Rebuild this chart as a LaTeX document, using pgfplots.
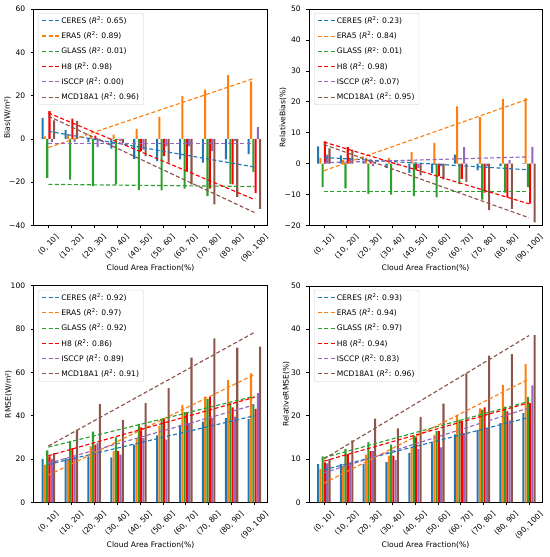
\documentclass[border=0pt]{standalone}
\usepackage{fontspec}
\setmainfont{DejaVu Sans}
\usepackage{graphicx}
\usepackage{pgfplots}
\usepackage{pgfplotstable}
\pgfplotsset{compat=1.18}
\newcommand\fs{\fontsize{7.6bp}{9bp}\selectfont}
\newcommand\xl[1]{\rotatebox{45}{#1}}
\definecolor{cblue}{HTML}{1F77B4}
\definecolor{corange}{HTML}{FF7F0E}
\definecolor{cgreen}{HTML}{2CA02C}
\definecolor{cred}{HTML}{FF0000}
\definecolor{cpurple}{HTML}{9467BD}
\definecolor{cbrown}{HTML}{8C564B}

% Bias
\pgfplotstableread{
x ceres era5 glass h8 isccp mcd
0 9.7 1.2 -18.0 12.8 -1.5 8.5
1 4.0 2.0 -18.8 9.4 -1.5 8.3
2 -1.5 1.5 -21.8 1.5 -3.8 -0.3
3 -4.5 2.0 -21.0 -0.3 -1.0 -1.8
4 -9.2 4.6 -23.7 -5.7 -5.0 -8.0
5 -10.3 10.2 -23.8 -8.0 -3.4 -11.0
6 -9.5 19.7 -23.0 -15.0 -3.4 -21.0
7 -11.0 22.8 -26.4 -23.0 -5.7 -30.3
8 -9.5 29.4 -20.8 -21.0 -1.0 -26.8
9 -7.0 26.6 -15.4 -25.0 5.4 -32.3
}\pa
\pgfplotstableread{
x ceres era5 glass h8 isccp mcd
0 3.5 -4.0 -21.0 12.0 -2.0 10.5
9 -13.0 28.0 -22.0 -28.0 -2.0 -34.0
}\ta
% Relative bias
\pgfplotstableread{
x ceres era5 glass h8 isccp mcd
0 5.6 1.9 -7.6 7.2 2.9 4.9
1 2.7 1.3 -8.0 5.3 1.9 4.5
2 0.5 1.9 -9.8 1.3 -0.8 0.5
3 -1.4 1.9 -10.0 0.2 -0.3 -0.6
4 -3.0 3.7 -10.5 -1.9 -1.4 -3.8
5 -3.0 6.7 -10.9 -4.0 -0.8 -5.1
6 2.9 18.5 -6.6 -4.9 5.3 -5.9
7 -2.2 15.0 -11.6 -9.4 -0.8 -15.0
8 -0.8 20.9 -9.4 -11.0 1.1 -14.6
9 0.2 21.2 -7.6 -12.9 5.4 -19.0
}\pb
\pgfplotstableread{
x ceres era5 glass h8 isccp mcd
0 2.0 -2.3 -9.0 7.0 0.3 6.2
9 -2.0 21.0 -9.0 -13.0 2.2 -17.5
}\tb
% RMSE
\pgfplotstableread{
x ceres era5 glass h8 isccp mcd
0 20.1 17.4 24.0 21.2 20.0 22.7
1 20.4 19.7 28.1 25.0 21.2 33.5
2 21.2 25.8 32.7 26.6 27.6 45.3
3 20.7 23.8 30.0 23.8 22.0 38.1
4 26.6 29.6 36.2 34.6 29.6 45.8
5 30.9 35.3 38.4 38.4 28.9 52.7
6 35.8 45.0 41.6 41.5 36.6 66.8
7 37.3 48.8 47.6 48.8 38.9 75.7
8 38.9 56.5 45.8 43.8 39.6 71.4
9 38.4 59.6 45.3 43.2 50.4 71.9
}\pc
\pgfplotstableread{
x ceres era5 glass h8 isccp mcd
0 17.5 12.5 25.5 21.5 18.0 26.0
9 40.0 59.0 49.0 48.5 45.0 78.5
}\tc
% Relative RMSE
\pgfplotstableread{
x ceres era5 glass h8 isccp mcd
0 8.8 7.7 10.6 9.2 9.0 10.0
1 8.9 8.3 12.3 11.1 9.1 14.3
2 8.9 11.0 13.9 11.8 11.8 19.3
3 9.3 10.8 13.3 10.8 9.8 17.1
4 11.4 12.7 15.4 15.0 12.3 19.7
5 13.7 15.6 16.5 16.5 12.7 22.8
6 15.7 20.2 19.0 18.7 16.0 29.8
7 16.7 21.7 21.4 21.9 17.1 33.9
8 18.3 27.1 22.1 21.0 18.9 34.2
9 20.6 31.9 24.3 22.9 27.0 38.6
}\pd
\pgfplotstableread{
x ceres era5 glass h8 isccp mcd
0 7.5 4.4 10.3 9.5 6.8 10.0
9 19.6 28.5 23.3 23.0 21.8 38.5
}\td

\pgfplotsset{
  panel/.style={
    scale only axis, width=234bp, height=216.5bp,
    xmin=-0.65, xmax=9.57,
    xtick={0,...,9},
    xticklabels={{\xl{(0, 10]}},{\xl{(10, 20]}},{\xl{(20, 30]}},{\xl{(30, 40]}},{\xl{(40, 50]}},{\xl{(50, 60]}},{\xl{(60, 70]}},{\xl{(70, 80]}},{\xl{(80, 90]}},{\xl{(90, 100]}}},
    tick align=outside, xtick pos=bottom, ytick pos=left,
    major tick length=2.7bp,
    tick style={black, line width=0.6bp},
    axis line style={black, line width=0.6bp},
    font=\fs,
    xticklabel style={anchor=north, inner sep=0pt, yshift=-5.4bp, font=\fs},
    yticklabel style={anchor=east, inner sep=0pt, xshift=-5.4bp, font=\fs},
    xlabel={Cloud Area Fraction(\%)},
    xlabel style={at={(axis description cs:0.5,-0.196)}, anchor=center, font=\fs},
    legend cell align=left,
    legend style={at={(axis description cs:0,1)}, anchor=north west,
      xshift=5bp, yshift=-4bp, draw=black!20, rounded corners=2bp,
      fill=white,
      font=\fs, inner xsep=3bp, inner ysep=2bp, row sep=4bp,
      nodes={inner sep=1.5bp}},
  },
  br/.style={ybar, bar width=0.09, draw=none, forget plot},
  tl/.style={dash pattern=on 4bp off 2.4bp, line width=1.15bp},
}

\newcommand\bars[1]{%
  \addplot[br, bar shift=-0.25, fill=cblue] table[x=x,y=ceres]{#1};
  \addplot[br, bar shift=-0.15, fill=corange] table[x=x,y=era5]{#1};
  \addplot[br, bar shift=-0.05, fill=cgreen] table[x=x,y=glass]{#1};
  \addplot[br, bar shift=0.05, fill=cred] table[x=x,y=h8]{#1};
  \addplot[br, bar shift=0.15, fill=cpurple] table[x=x,y=isccp]{#1};
  \addplot[br, bar shift=0.25, fill=cbrown] table[x=x,y=mcd]{#1};
}
\newcommand\trends[7]{%
  \addplot[tl, color=cblue] table[x=x,y=ceres]{#1};
  \addlegendentry{CERES (\textit{R}\textsuperscript{2}: #2)}
  \addplot[tl, color=corange] table[x=x,y=era5]{#1};
  \addlegendentry{ERA5 (\textit{R}\textsuperscript{2}: #3)}
  \addplot[tl, color=cgreen] table[x=x,y=glass]{#1};
  \addlegendentry{GLASS (\textit{R}\textsuperscript{2}: #4)}
  \addplot[tl, color=cred] table[x=x,y=h8]{#1};
  \addlegendentry{H8 (\textit{R}\textsuperscript{2}: #5)}
  \addplot[tl, color=cpurple] table[x=x,y=isccp]{#1};
  \addlegendentry{ISCCP (\textit{R}\textsuperscript{2}: #6)}
  \addplot[tl, color=cbrown] table[x=x,y=mcd]{#1};
  \addlegendentry{MCD18A1 (\textit{R}\textsuperscript{2}: #7)}
}

\begin{document}
\begin{tikzpicture}
\useasboundingbox (0,0) rectangle (550bp,557bp);

\begin{axis}[panel, at={(33.5bp,331.5bp)}, anchor=south west,
  ymin=-40, ymax=60, ytick={-40,-20,0,20,40,60},
  yticklabels={−40,−20,0,20,40,60},
  ylabel={Bias(W/m²)},
  ylabel style={at={(axis description cs:-0.111,0.5)}, anchor=center, font=\fs}]
\bars{\pa}
\trends{\ta}{0.65}{0.89}{0.01}{0.98}{0.00}{0.96}
\end{axis}

\begin{axis}[panel, width=233bp, at={(309bp,331.5bp)}, anchor=south west,
  ymin=-20, ymax=50, ytick={-20,-10,0,10,20,30,40,50},
  yticklabels={−20,−10,0,10,20,30,40,50},
  ylabel={RelativeBias(\%)},
  ylabel style={at={(axis description cs:-0.112,0.5)}, anchor=center, font=\fs}]
\bars{\pb}
\trends{\tb}{0.23}{0.84}{0.01}{0.98}{0.07}{0.95}
\end{axis}

\begin{axis}[panel, at={(33.5bp,54.7bp)}, anchor=south west,
  ymin=0, ymax=100, ytick={0,20,40,60,80,100},
  yticklabels={0,20,40,60,80,100},
  ylabel={RMSE(W/m²)},
  ylabel style={at={(axis description cs:-0.107,0.5)}, anchor=center, font=\fs}]
\bars{\pc}
\trends{\tc}{0.92}{0.97}{0.92}{0.86}{0.89}{0.91}
\end{axis}

\begin{axis}[panel, width=233bp, at={(309bp,54.7bp)}, anchor=south west,
  ymin=0, ymax=50, ytick={0,10,20,30,40,50},
  yticklabels={0,10,20,30,40,50},
  ylabel={RelativeRMSE(\%)},
  ylabel style={at={(axis description cs:-0.098,0.5)}, anchor=center, font=\fs}]
\bars{\pd}
\trends{\td}{0.93}{0.94}{0.97}{0.94}{0.83}{0.96}
\end{axis}
\end{tikzpicture}
\end{document}
